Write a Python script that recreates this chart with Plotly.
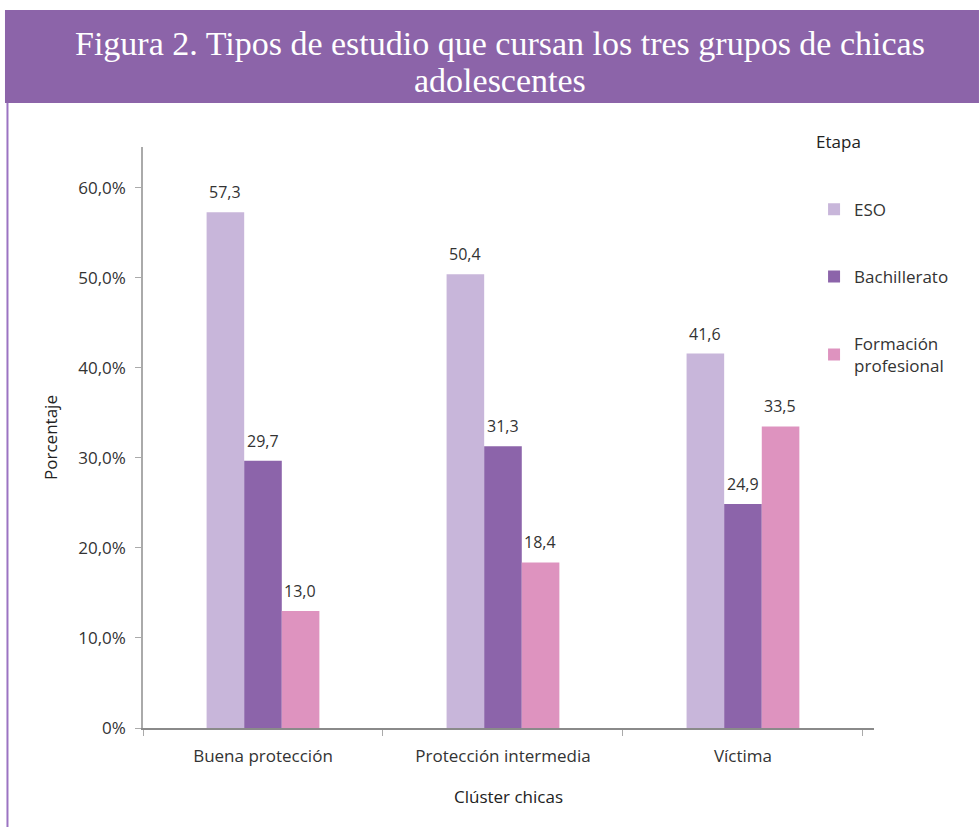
import plotly.graph_objects as go

# Cluster categories and percentages per study stage
clusters = ["Buena protección", "Protección intermedia", "Víctima"]
stages = ["ESO", "Bachillerato", "Formación<br>profesional"]
eso = [57.3, 50.4, 41.6]
bachillerato = [29.7, 31.3, 24.9]
fp = [13.0, 18.4, 33.5]
series = [eso, bachillerato, fp]
colors = ["#C8B6DA", "#8C64AA", "#DE93BF"]

y_ticks = [0, 10, 20, 30, 40, 50, 60]
y_ticktext = ["0%", "10,0%", "20,0%", "30,0%", "40,0%", "50,0%", "60,0%"]

FONT = "Open Sans"
TEXT = "#333333"
SIZE = 17

fig = go.Figure()
for i, (name, vals, col) in enumerate(zip(stages, series, colors)):
    fig.add_trace(go.Bar(
        x=clusters, y=vals, name=name, marker_color=col,
        marker_line_width=0, legendgroup=str(i),
    ))

# value labels above each bar
bar_px = 37.5
annotations = []
for i, vals in enumerate(series):
    for c, v in zip(clusters, vals):
        annotations.append(dict(
            x=c, y=v, xref="x", yref="y", text=f"{v:.1f}".replace(".", ","),
            showarrow=False, xshift=(i - 1) * bar_px, yshift=20,
            font=dict(family=FONT, size=16, color=TEXT),
        ))

# figure heading inside the purple band, one annotation per line
heading = ["Figura 2. Tipos de estudio que cursan los tres grupos de chicas", "adolescentes"]
for line, ypos in zip(heading, [1.1790, 1.1145]):
    annotations.append(dict(
        x=0.488, y=ypos, xref="paper", yref="paper", text=line,
        showarrow=False, xanchor="center", yanchor="middle",
        font=dict(family="Liberation Serif", size=34, color="white"),
    ))

shapes = [
    dict(type="rect", xref="paper", yref="paper",
         x0=-0.1888, x1=1.1436, y0=1.0757, y1=1.2358,
         fillcolor="#8C64A9", line_width=0, layer="below"),
    dict(type="line", xref="paper", yref="paper",
         x0=-0.1854, x1=-0.1854, y0=-0.2, y1=1.0757,
         line=dict(color="#9B74C2", width=2)),
]

fig.update_layout(
    width=979, height=827,
    margin=dict(l=143, r=105, t=147, b=99),
    paper_bgcolor="white", plot_bgcolor="white",
    font=dict(family=FONT, size=SIZE, color=TEXT),
    barmode="group", bargap=0.53, bargroupgap=0,
    showlegend=True,
    legend=dict(
        x=0.918, y=1.037, xanchor="left", yanchor="top",
        title=dict(text="Etapa<br> <br> ", font=dict(family=FONT, size=SIZE, color="#222")),
        font=dict(family=FONT, size=SIZE, color=TEXT),
        tracegroupgap=42, traceorder="grouped",
    ),
    annotations=annotations,
    shapes=shapes,
    xaxis=dict(
        type="category", range=[-0.5, 2.546],
        showline=True, linecolor="#8a8a8a", linewidth=1.5,
        ticks="outside", tickson="boundaries", ticklen=6, tickcolor="#aaaaaa",
        ticklabelstandoff=12,
        tickfont=dict(family=FONT, size=SIZE, color=TEXT),
        title=dict(text="Clúster chicas", font=dict(family=FONT, size=SIZE, color="#222"), standoff=25),
        showgrid=False, zeroline=False,
    ),
    yaxis=dict(
        range=[0, 64.55],
        tickvals=y_ticks, ticktext=y_ticktext,
        showline=True, linecolor="#aaaaaa", linewidth=1.5,
        ticks="outside", ticklen=6, tickcolor="#aaaaaa",
        ticklabelstandoff=6,
        tickfont=dict(family=FONT, size=SIZE, color=TEXT),
        title=dict(text="Porcentaje", font=dict(family=FONT, size=SIZE, color="#222"), standoff=16),
        showgrid=False, zeroline=False,
    ),
)

fig.write_html("out.html")
